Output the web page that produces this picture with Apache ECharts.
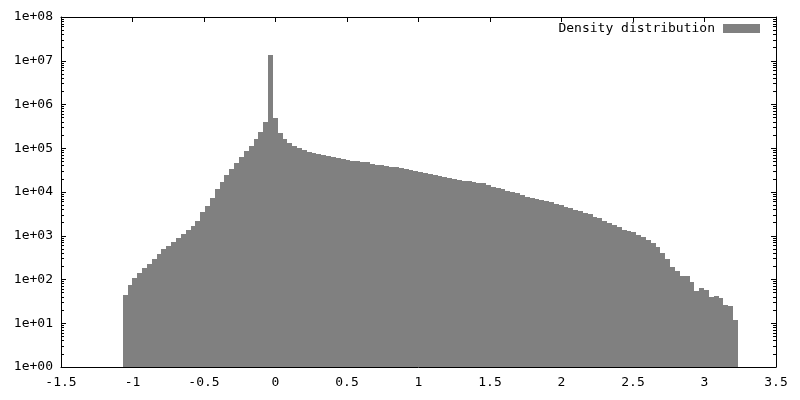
<!DOCTYPE html>
<html>
<head>
<meta charset="utf-8">
<script src="https://cdn.jsdelivr.net/npm/echarts@6/dist/echarts.min.js"></script>
<style>
html,body{margin:0;padding:0;background:#fff;}
#chart{width:800px;height:400px;}
</style>
</head>
<body>
<div id="chart"></div>
<script>
// Histogram bins: left edge of the first bin and the bin width (x units)
const binStart = -1.0685;
const binWidth = 0.03388;
// Counts per bin (log scale)
const counts = [44, 75, 108, 143, 183, 230, 294, 389, 498, 583,
  720, 888, 1096, 1353, 1697, 2173, 3490, 4863, 7293, 11530,
  16930, 24460, 33560, 46010, 63100, 86500, 112600, 162700, 235200, 398100,
  13530000, 491300, 223100, 162700, 131800, 112600, 101300, 91200, 82100, 77900,
  73900, 70100, 66500, 63100, 59850, 56800, 53870, 51110, 50500, 48500,
  48000, 43650, 41410, 41000, 39290, 37270, 37000, 35360, 33550, 31830,
  30200, 28650, 27190, 25790, 24470, 23210, 22030, 20890, 19830, 18810,
  17840, 17600, 16930, 16060, 15900, 14450, 13010, 12340, 11710, 10540,
  10000, 9490, 8540, 7690, 7290, 6920, 6560, 6230, 5910, 5320,
  5050, 4540, 4310, 3880, 3680, 3310, 3140, 2680, 2550, 2170,
  1960, 1760, 1585, 1350, 1284, 1218, 1040, 936, 800, 683,
  553, 403, 294, 193, 156, 120, 118, 88, 55, 64,
  58, 40, 42, 38, 26, 25, 12];
const seriesName = 'Density distribution';
const xTickValues = [-1.5, -1, -0.5, 0, 0.5, 1, 1.5, 2, 2.5, 3, 3.5];
const xTickLabels = ['-1.5', '-1', '-0.5', '0', '0.5', '1', '1.5', '2', '2.5', '3', '3.5'];
const yTickValues = [1, 10, 100, 1000, 10000, 100000, 1000000, 10000000, 100000000];
const yTickLabels = ['1e+00', '1e+01', '1e+02', '1e+03', '1e+04', '1e+05', '1e+06', '1e+07', '1e+08'];
const minorMultipliers = [2, 3, 4, 5, 6, 7, 8, 9];

const data = counts.map((c, i) => [binStart + i * binWidth, binStart + (i + 1) * binWidth, c]);
const yMinor = [];
yTickValues.slice(0, -1).forEach(d => minorMultipliers.forEach(m => yMinor.push(d * m)));

const FONT = 'DejaVu Sans Mono';
const chart = echarts.init(document.getElementById('chart'), null, {renderer: 'canvas'});
const lineStyle = {color: '#000', width: 1};
const xFmt = v => { const i = xTickValues.findIndex(t => Math.abs(t - v) < 1e-9); return i >= 0 ? xTickLabels[i] : ''; };
const yFmt = v => { const i = yTickValues.findIndex(t => Math.abs(Math.log10(t) - Math.log10(v)) < 1e-6); return i >= 0 ? yTickLabels[i] : ''; };

const xBase = {
  type: 'value', min: -1.5, max: 3.5, interval: 0.5,
  axisLine: {show: true, onZero: false, lineStyle},
  axisTick: {show: true, inside: true, length: 5, lineStyle},
  splitLine: {show: false}
};
const yBase = {
  type: 'log', logBase: 10, min: 1, max: 1e8, splitNumber: 8,
  axisLine: {show: true, onZero: false, lineStyle},
  axisTick: {show: true, inside: true, length: 5, lineStyle},
  splitLine: {show: false}, minorTick: {show: false}
};
const yMinorAxis = pos => ({
  type: 'log', logBase: 10, min: 1, max: 1e8, position: pos, offset: 0,
  axisLine: {show: false, onZero: false},
  axisLabel: {show: false},
  axisTick: {show: true, inside: true, length: 3, lineStyle, customValues: yMinor},
  splitLine: {show: false}
});

chart.setOption({
  animation: false,
  backgroundColor: '#fff',
  grid: {left: 61, right: 24, top: 17, bottom: 33, containLabel: false},
  legend: {
    show: true, right: 35, top: 17, align: 'right', orient: 'horizontal',
    itemWidth: 37, itemHeight: 9,
    data: [{name: seriesName, icon: 'rect', itemStyle: {color: '#808080'}}],
    textStyle: {fontFamily: FONT, fontSize: 13, color: '#000', padding: [0, 3, 0, 0]},
    selectedMode: false
  },
  xAxis: [
    Object.assign({}, xBase, {position: 'bottom',
      axisLabel: {show: true, formatter: xFmt, fontFamily: FONT, fontSize: 13, color: '#000', margin: 9}}),
    Object.assign({}, xBase, {position: 'top', axisLabel: {show: false}})
  ],
  yAxis: [
    Object.assign({}, yBase, {position: 'left',
      axisLabel: {show: true, formatter: yFmt, fontFamily: FONT, fontSize: 13, color: '#000', margin: 8}}),
    Object.assign({}, yBase, {position: 'right', axisLabel: {show: false}}),
    yMinorAxis('left'),
    yMinorAxis('right')
  ],
  series: [{
    name: seriesName,
    type: 'custom',
    xAxisIndex: 0, yAxisIndex: 0,
    itemStyle: {color: '#808080'},
    renderItem: (params, api) => {
      const p0 = api.coord([api.value(0), api.value(2)]);
      const p1 = api.coord([api.value(1), 1]);
      const x0 = Math.round(p0[0]), x1 = Math.round(p1[0]);
      const y0 = Math.round(p0[1]), y1 = Math.round(p1[1]);
      return {type: 'rect', shape: {x: x0, y: y0, width: x1 - x0, height: y1 - y0},
        style: {fill: '#808080', stroke: null}};
    },
    encode: {x: [0, 1], y: 2},
    data: data
  }]
});
</script>
</body>
</html>
